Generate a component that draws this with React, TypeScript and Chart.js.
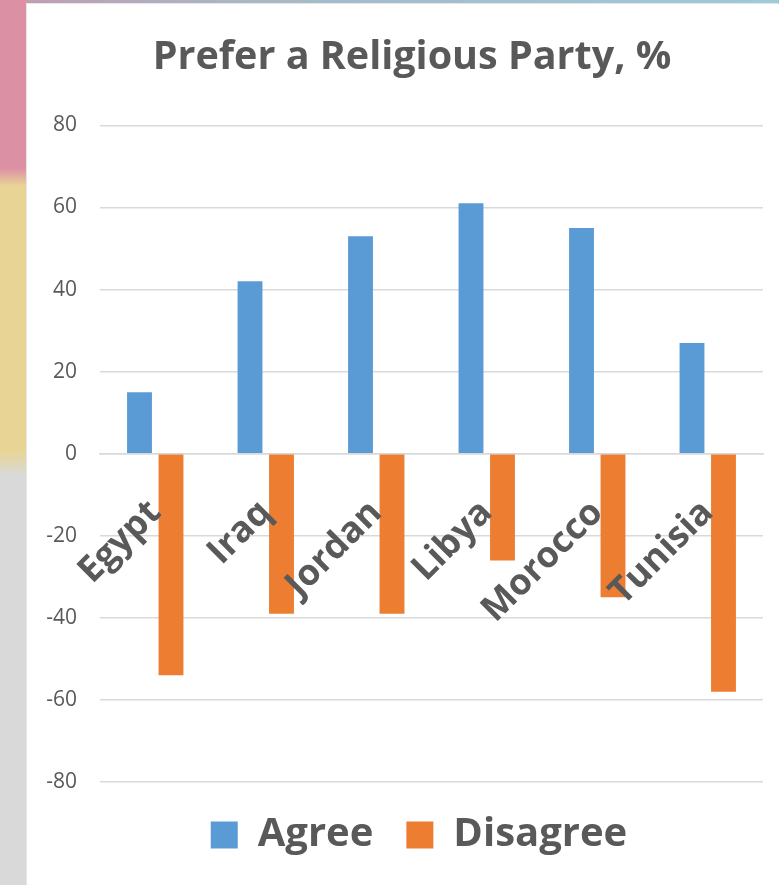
import React, { useEffect, useRef } from "react";
import { Chart, registerables } from "chart.js";

Chart.register(...registerables);

const countries = ["Egypt", "Iraq", "Jordan", "Libya", "Morocco", "Tunisia"];
const agree = [15, 42, 53, 61, 55, 27];
const disagree = [-54, -39, -39, -26, -35, -58];
const yMin = -80;
const yMax = 80;
const yStep = 20;
const titleText = "Prefer a Religious Party, %";

const TEXT = "#595959";
const FONT = "'Open Sans', 'Noto Sans', sans-serif";

// nudges the title and legend boxes horizontally after layout
const nudgeBoxes = {
  id: "nudgeBoxes",
  afterLayout(chart: any) {
    const t = chart.titleBlock;
    if (t) {
      t.left += 8;
      t.right += 8;
    }
    const l = chart.legend;
    if (l) {
      l.left += 15;
      l.right += 15;
    }
  },
};

export default function App() {
  const ref = useRef<HTMLCanvasElement>(null);
  useEffect(() => {
    if (!ref.current) return;
    const chart = new Chart(ref.current, {
      type: "bar",
      data: {
        labels: countries,
        datasets: [
          { label: "Agree", data: agree, backgroundColor: "#5b9bd5", borderWidth: 0 },
          { label: "Disagree", data: disagree, backgroundColor: "#ed7d31", borderWidth: 0 },
        ],
      },
      plugins: [nudgeBoxes],
      options: {
        responsive: false,
        animation: false,
        devicePixelRatio: 1,
        datasets: { bar: { categoryPercentage: 0.57, barPercentage: 0.79 } },
        layout: { padding: { left: 18, right: 16, top: 0, bottom: 20 } },
        plugins: {
          tooltip: { enabled: false },
          title: {
            display: true,
            text: titleText,
            color: TEXT,
            font: { family: FONT, size: 39.5, weight: "bold", lineHeight: 1.2 },
            padding: { top: 30, bottom: 44 },
          },
          legend: {
            position: "bottom",
            labels: {
              color: TEXT,
              font: { family: FONT, size: 40, weight: "bold" },
              boxWidth: 27,
              boxHeight: 27,
              padding: 33,
            },
          },
        },
        scales: {
          x: {
            position: { y: 0 } as any,
            grid: { display: false },
            border: { display: true, color: "#d9d9d9", width: 1.5 },
            ticks: {
              z: 1,
              color: TEXT,
              font: { family: FONT, size: 36, weight: "bold" },
              minRotation: 45,
              maxRotation: 45,
              autoSkip: false,
              padding: 30,
            },
          },
          y: {
            min: yMin,
            max: yMax,
            afterFit: (s: any) => {
              s.width = 55;
            },
            grid: { color: "#d9d9d9", lineWidth: 1.5, drawTicks: false },
            border: { display: false },
            ticks: {
              stepSize: yStep,
              color: TEXT,
              font: { family: FONT, size: 21 },
              padding: 23,
            },
          },
        },
      },
    });
    return () => chart.destroy();
  }, []);

  return (
    <div
      style={{
        position: "absolute",
        left: 0,
        top: 0,
        width: 779,
        height: 885,
        overflow: "hidden",
        background:
          "linear-gradient(to bottom, #dc90a4 0px, #dc90a4 168px, #e8d596 186px, #e8d596 452px, #d9d9d9 475px, #d9d9d9 885px)",
      }}
    >
      <div
        style={{
          position: "absolute",
          left: 27,
          top: 0,
          width: 752,
          height: 4,
          background: "linear-gradient(to right, #c09eb2 0%, #a7b8c8 30%, #9ccbd9 100%)",
        }}
      />
      <div
        style={{
          position: "absolute",
          left: 27,
          top: 4,
          width: 752,
          height: 881,
          background: "#ffffff",
          boxShadow: "-1px -1px 0 #e6e6e6",
        }}
      >
        <canvas ref={ref} width={752} height={881} style={{ display: "block", width: 752, height: 881 }} />
      </div>
    </div>
  );
}
